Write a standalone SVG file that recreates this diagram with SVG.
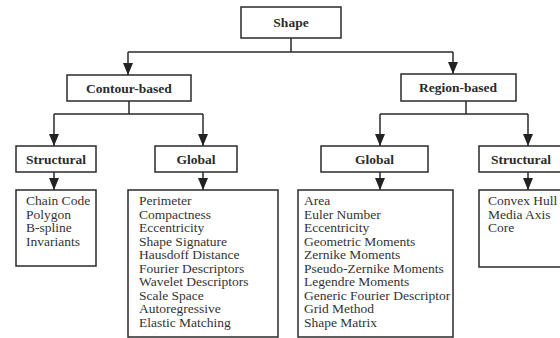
<svg xmlns="http://www.w3.org/2000/svg" width="560" height="338" viewBox="0 0 560 338" font-family="'Liberation Serif', 'DejaVu Serif', serif">
<defs>
<marker id="ah" markerWidth="12" markerHeight="10" refX="12" refY="5" orient="auto" markerUnits="userSpaceOnUse" viewBox="0 0 12 10">
<path d="M0,0 L12,5 L0,10 Z" fill="#222"/>
</marker>
</defs>
<style>
rect{fill:#fff;stroke:#2a2a2a;stroke-width:1.5}
.h{font-weight:bold;font-size:13.5px;fill:#2b2b2b;text-anchor:middle}
.t{font-size:13.5px;fill:#333}
.c{fill:none;stroke:#2a2a2a;stroke-width:1.5}
</style>
<rect x="0" y="0" width="560" height="338" style="stroke:none;fill:#fff"/>
<g id="connectors">
<path class="c" d="M291,38 V52 M128,52 H453"/>
<path class="c" d="M128,52 V75" marker-end="url(#ah)"/>
<path class="c" d="M453,52 V74" marker-end="url(#ah)"/>
<path class="c" d="M129,101 V114 M54,114 H203"/>
<path class="c" d="M54,114 V146" marker-end="url(#ah)"/>
<path class="c" d="M203,114 V146" marker-end="url(#ah)"/>
<path class="c" d="M466,101 V114 M380,114 H528"/>
<path class="c" d="M380,114 V146" marker-end="url(#ah)"/>
<path class="c" d="M528,114 V146" marker-end="url(#ah)"/>
<path class="c" d="M54,172 V190" marker-end="url(#ah)"/>
<path class="c" d="M203,172 V190" marker-end="url(#ah)"/>
<path class="c" d="M380,172 V190" marker-end="url(#ah)"/>
<path class="c" d="M528,172 V190" marker-end="url(#ah)"/>
</g>
<g id="shape"><rect x="241" y="7" width="100" height="31"/><text class="h" x="291" y="27">Shape</text></g>
<g id="contour"><rect x="67" y="75" width="124" height="26"/><text class="h" x="129" y="93">Contour-based</text></g>
<g id="region"><rect x="401" y="74" width="115" height="27"/><text class="h" x="458" y="92">Region-based</text></g>
<g id="c-structural"><rect x="16" y="146" width="80" height="26"/><text class="h" x="56" y="164">Structural</text></g>
<g id="c-global"><rect x="155" y="146" width="82" height="26"/><text class="h" x="196" y="164">Global</text></g>
<g id="r-global"><rect x="321" y="146" width="107" height="26"/><text class="h" x="374.5" y="164">Global</text></g>
<g id="r-structural"><rect x="479" y="146" width="95" height="26"/><text class="h" x="521" y="164">Structural</text></g>
<g id="c-structural-list"><rect x="16" y="190" width="80" height="76"/>
<text class="t" x="26" y="205">Chain Code</text>
<text class="t" x="26" y="218.5">Polygon</text>
<text class="t" x="26" y="232">B-spline</text>
<text class="t" x="26" y="245.5">Invariants</text>
</g>
<g id="c-global-list"><rect x="128" y="190" width="150" height="147"/>
<text class="t" x="139" y="205">Perimeter</text>
<text class="t" x="139" y="218.5">Compactness</text>
<text class="t" x="139" y="232">Eccentricity</text>
<text class="t" x="139" y="245.5">Shape Signature</text>
<text class="t" x="139" y="259">Hausdoff Distance</text>
<text class="t" x="139" y="272.5">Fourier Descriptors</text>
<text class="t" x="139" y="286">Wavelet Descriptors</text>
<text class="t" x="139" y="299.5">Scale Space</text>
<text class="t" x="139" y="313">Autoregressive</text>
<text class="t" x="139" y="326.5">Elastic Matching</text>
</g>
<g id="r-global-list"><rect x="298" y="190" width="155" height="147"/>
<text class="t" x="304" y="205">Area</text>
<text class="t" x="304" y="218.5">Euler Number</text>
<text class="t" x="304" y="232">Eccentricity</text>
<text class="t" x="304" y="245.5">Geometric Moments</text>
<text class="t" x="304" y="259">Zernike Moments</text>
<text class="t" x="304" y="272.5">Pseudo-Zernike Moments</text>
<text class="t" x="304" y="286">Legendre Moments</text>
<text class="t" x="304" y="299.5">Generic Fourier Descriptor</text>
<text class="t" x="304" y="313">Grid Method</text>
<text class="t" x="304" y="326.5">Shape Matrix</text>
</g>
<g id="r-structural-list"><rect x="479" y="190" width="95" height="77"/>
<text class="t" x="488" y="205">Convex Hull</text>
<text class="t" x="488" y="218.5">Media Axis</text>
<text class="t" x="488" y="232">Core</text>
</g>
</svg>
